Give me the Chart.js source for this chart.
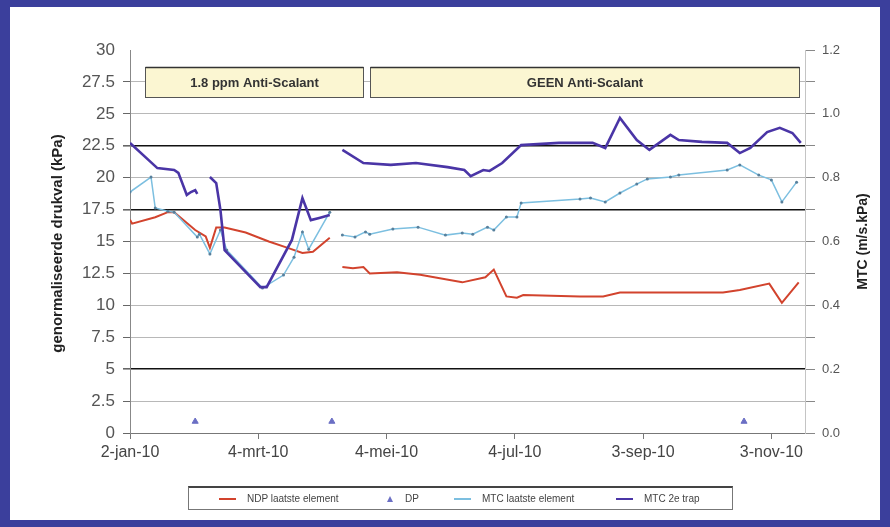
<!DOCTYPE html>
<html><head><meta charset="utf-8">
<script src="https://cdn.jsdelivr.net/npm/chart.js@4.4.1/dist/chart.umd.min.js"></script>
<style>
html,body{margin:0;padding:0;background:#fff;}
#frame{position:absolute;left:0;top:0;width:890px;height:527px;box-sizing:border-box;border-style:solid;border-color:#3b3f9c;border-width:7px 10px 7px 10px;background:#fff;overflow:hidden;}
#c{position:absolute;left:0;top:0;}
#legend{position:absolute;left:178px;top:479px;width:545px;height:24px;border:1px solid #777;border-top:2px solid #444;box-sizing:border-box;font:10px "Liberation Sans",Arial,sans-serif;color:#444;}
.item{position:absolute;top:0;height:100%;display:flex;align-items:center;white-space:nowrap;}
.ln{display:inline-block;width:17px;height:2px;margin-right:11px;}
.tri{display:inline-block;width:0;height:0;border-left:3.5px solid transparent;border-right:3.5px solid transparent;border-bottom:6px solid #6b6fc4;margin-right:12px;}
</style></head>
<body>
<div id="frame">
<canvas id="c" width="870" height="513"></canvas>
<div id="legend"></div>
</div>
<script>
// ---- data ----
const ndpDates = ['2010-01-02','2010-01-03','2010-01-14','2010-01-20','2010-01-23','2010-02-02','2010-02-07','2010-02-09','2010-02-12','2010-02-16','2010-02-26','2010-03-09','2010-03-18','2010-03-25','2010-03-30','2010-04-07','2010-04-10','2010-04-13','2010-04-18','2010-04-23','2010-04-26','2010-05-09','2010-05-20','2010-06-09','2010-06-20','2010-06-24','2010-06-30','2010-07-05','2010-07-08','2010-08-04','2010-08-15','2010-08-23','2010-09-16','2010-09-20','2010-10-11','2010-10-19','2010-11-02','2010-11-08','2010-11-16'];
const ndpValues = [16.7,16.4,16.9,17.3,17.3,15.9,15.4,14.5,16.1,16.1,15.7,15.0,14.5,14.1,14.2,15.3,null,13.0,12.9,13.0,12.5,12.6,12.4,11.8,12.2,12.8,10.7,10.6,10.8,10.7,10.7,11.0,11.0,11.0,11.0,11.2,11.7,10.2,11.8];

const dpDates = ['2010-02-02','2010-04-08','2010-10-21'];
const dpValues = [0.9,0.9,0.9];

const mtcLastDates = ['2010-01-02','2010-01-12','2010-01-14','2010-01-20','2010-01-23','2010-02-03','2010-02-04','2010-02-09','2010-02-14','2010-02-17','2010-03-06','2010-03-16','2010-03-21','2010-03-25','2010-03-28','2010-04-07','2010-04-10','2010-04-13','2010-04-19','2010-04-24','2010-04-26','2010-05-07','2010-05-19','2010-06-01','2010-06-09','2010-06-14','2010-06-21','2010-06-24','2010-06-30','2010-07-05','2010-07-07','2010-08-04','2010-08-09','2010-08-16','2010-08-23','2010-08-31','2010-09-05','2010-09-16','2010-09-20','2010-10-13','2010-10-19','2010-10-28','2010-11-03','2010-11-08','2010-11-15'];
const mtcLastValues = [0.755,0.802,0.705,0.695,0.692,0.614,0.623,0.561,0.636,0.573,0.454,0.495,0.551,0.630,0.576,0.692,null,0.620,0.614,0.630,0.623,0.639,0.645,0.620,0.627,0.623,0.645,0.636,0.677,0.677,0.721,0.733,0.736,0.724,0.752,0.780,0.796,0.802,0.808,0.824,0.840,0.808,0.793,0.724,0.786];

const mtc2Dates = ['2010-01-02','2010-01-15','2010-01-23','2010-01-25','2010-01-29','2010-01-31','2010-02-02','2010-02-03','2010-02-06','2010-02-09','2010-02-12','2010-02-14','2010-02-16','2010-03-05','2010-03-08','2010-03-20','2010-03-25','2010-03-29','2010-04-02','2010-04-07','2010-04-10','2010-04-13','2010-04-23','2010-05-06','2010-05-18','2010-06-02','2010-06-10','2010-06-13','2010-06-19','2010-06-22','2010-06-28','2010-07-07','2010-07-25','2010-08-10','2010-08-16','2010-08-23','2010-08-31','2010-09-06','2010-09-16','2010-09-20','2010-10-01','2010-10-13','2010-10-19','2010-10-24','2010-11-01','2010-11-07','2010-11-13','2010-11-17'];
const mtc2Values = [0.909,0.830,0.824,0.815,0.746,0.755,0.761,0.749,null,0.802,0.783,0.699,0.573,0.457,0.457,0.605,0.736,0.667,0.674,0.683,null,0.887,0.846,0.840,0.846,0.833,0.824,0.805,0.824,0.821,0.846,0.902,0.909,0.909,0.893,0.987,0.918,0.887,0.934,0.918,0.912,0.909,0.877,0.893,0.943,0.956,0.940,0.909];

const xTickDates = ['2010-01-02','2010-03-04','2010-05-04','2010-07-04','2010-09-03','2010-11-03'];
const xStartDate = '2010-01-02';
const xEndDate = '2010-11-19';

const periodLabels = ['1.8 ppm Anti-Scalant','GEEN Anti-Scalant'];
const periodFrom = ['2010-01-09','2010-04-26'];
const periodTo = ['2010-04-23','2010-11-16'];

const leftTitle = 'genormaliseerde drukval (kPa)';
const rightTitle = 'MTC (m/s.kPa)';
const monthsNL = ['jan','feb','mrt','apr','mei','jun','jul','aug','sep','okt','nov','dec'];

// ---- helpers ----
const [sy,sm,sd] = xStartDate.split('-').map(Number);
const START = Date.UTC(sy,sm-1,sd);
const dayOf = s => { const [y,m,d] = s.split('-').map(Number); return Math.round((Date.UTC(y,m-1,d)-START)/86400000); };
const fmtDay = day => { const dt = new Date(START + Math.round(day)*86400000); return dt.getUTCDate()+'-'+monthsNL[dt.getUTCMonth()]+'-'+String(dt.getUTCFullYear()).slice(2); };
const toPts = (dates, vals) => dates.map((d,i) => ({x: dayOf(d), y: vals[i]}));

const FAM = "'Liberation Sans', Arial, sans-serif";
Chart.defaults.font.family = FAM;
const strong = [5, 17.5, 22.5];

const periodPlugin = {
  id:'periods',
  afterDatasetsDraw(chart){
    const ctx = chart.ctx, xs = chart.scales.x, ys = chart.scales.y;
    const yTop = ys.getPixelForValue(28.7), yBot = ys.getPixelForValue(26.3);
    ctx.save();
    periodLabels.forEach((lab,i) => {
      const x1 = Math.round(xs.getPixelForValue(dayOf(periodFrom[i])))+0.5;
      const x2 = Math.round(xs.getPixelForValue(dayOf(periodTo[i])))+0.5;
      const t = Math.round(yTop)+0.5, b = Math.round(yBot)+0.5;
      ctx.fillStyle = '#fbf6d2';
      ctx.fillRect(x1,t,x2-x1,b-t);
      ctx.strokeStyle = '#555'; ctx.lineWidth = 1;
      ctx.strokeRect(x1,t,x2-x1,b-t);
      ctx.beginPath(); ctx.moveTo(x1,t); ctx.lineTo(x2,t); ctx.lineWidth=1.5; ctx.strokeStyle='#333'; ctx.stroke();
      ctx.fillStyle = '#333';
      ctx.font = 'bold 13px ' + FAM;
      ctx.textAlign = 'center'; ctx.textBaseline = 'middle';
      ctx.fillText(lab, (x1+x2)/2, (t+b)/2+1);
    });
    ctx.restore();
  },
  afterDraw(chart){
    const ctx = chart.ctx, a = chart.chartArea;
    const cy = (a.top + a.bottom)/2;
    ctx.save();
    ctx.fillStyle = '#222';
    ctx.textAlign = 'center'; ctx.textBaseline = 'middle';
    ctx.font = 'bold 15px ' + FAM;
    ctx.translate(48, cy + 2); ctx.rotate(-Math.PI/2); ctx.fillText(leftTitle, 0, 0);
    ctx.restore();
    ctx.save();
    ctx.fillStyle = '#222';
    ctx.textAlign = 'center'; ctx.textBaseline = 'middle';
    ctx.font = 'bold 14px ' + FAM;
    ctx.translate(853, cy); ctx.rotate(-Math.PI/2); ctx.fillText(rightTitle, 0, 0);
    ctx.restore();
  }
};

const chart = new Chart(document.getElementById('c'), {
  type:'line',
  data:{datasets:[
    {label:'MTC 2e trap', data: toPts(mtc2Dates, mtc2Values), yAxisID:'y2', borderColor:'#4a35a6', backgroundColor:'#4a35a6', borderWidth:2.6, pointRadius:0, order:0, tension:0},
    {label:'MTC laatste element', data: toPts(mtcLastDates, mtcLastValues), yAxisID:'y2', borderColor:'#7cbfe0', backgroundColor:'#7cbfe0', borderWidth:1.5, pointRadius:1.5, pointBackgroundColor:'#58809c', pointBorderWidth:0, order:1, tension:0},
    {label:'DP', data: toPts(dpDates, dpValues), yAxisID:'y', showLine:false, pointStyle:'triangle', pointRadius:3.5, pointBackgroundColor:'#6b6fc4', pointBorderColor:'#6b6fc4', borderColor:'#6b6fc4', backgroundColor:'#6b6fc4', order:2},
    {label:'NDP laatste element', data: toPts(ndpDates, ndpValues), yAxisID:'y', borderColor:'#d2432d', backgroundColor:'#d2432d', borderWidth:2, pointRadius:0, order:3, tension:0}
  ]},
  options:{
    responsive:false, animation:false, devicePixelRatio:1,
    layout:{padding:{top:43,bottom:47,left:0,right:0}},
    plugins:{legend:{display:false}, tooltip:{enabled:false}},
    scales:{
      x:{type:'linear', min:0, max:dayOf(xEndDate),
        afterBuildTicks: s => { s.ticks = xTickDates.map(d => ({value: dayOf(d)})); },
        afterFit: s => { s.height = 40; },
        ticks:{callback: v => fmtDay(v), font:{size:16}, color:'#444', maxRotation:0, minRotation:0, autoSkip:false, padding:4},
        grid:{drawOnChartArea:false, tickLength:6, color:'#777'},
        border:{color:'#777', width:1}},
      y:{position:'left', min:0, max:30,
        afterFit: s => { s.width = 120; },
        ticks:{stepSize:2.5, callback: v => String(v), font:{size:17}, color:'#555', padding:8, autoSkip:false},
        grid:{
          color: c => { const v = c.tick.value; if (v === 30) return 'rgba(0,0,0,0)'; if (v === 0) return '#777'; return strong.includes(v) ? '#111' : '#b8b8b8'; },
          lineWidth: c => strong.includes(c.tick.value) ? 1.6 : 1,
          tickColor: c => c.tick.value === 30 ? 'rgba(0,0,0,0)' : '#666',
          tickLength:7},
        border:{color:'#888', width:1}},
      y2:{position:'right', min:0, max:1.2,
        afterFit: s => { s.width = 75; },
        ticks:{stepSize:0.1, callback: v => (Math.round(v*10) % 2 === 0) ? v.toFixed(1) : '', font:{size:13}, color:'#555', padding:7, autoSkip:false},
        grid:{drawOnChartArea:false, tickLength:10, color:'#888'},
        border:{color:'#c4c4c4', width:1}}
    }
  },
  plugins:[periodPlugin]
});

// ---- HTML legend built from datasets ----
const legendOrder = ['NDP laatste element','DP','MTC laatste element','MTC 2e trap'];
const legendLeft = [30, 198, 265, 427];
const leg = document.getElementById('legend');
legendOrder.forEach((name,i) => {
  const ds = chart.data.datasets.find(d => d.label === name);
  const it = document.createElement('div');
  it.className = 'item'; it.style.left = legendLeft[i] + 'px';
  const mk = document.createElement('span');
  if (ds.pointStyle === 'triangle') { mk.className = 'tri'; mk.style.borderBottomColor = ds.pointBackgroundColor; }
  else { mk.className = 'ln'; mk.style.background = ds.borderColor; }
  it.appendChild(mk);
  const tx = document.createElement('span'); tx.textContent = name; it.appendChild(tx);
  leg.appendChild(it);
});
</script>
</body></html>
